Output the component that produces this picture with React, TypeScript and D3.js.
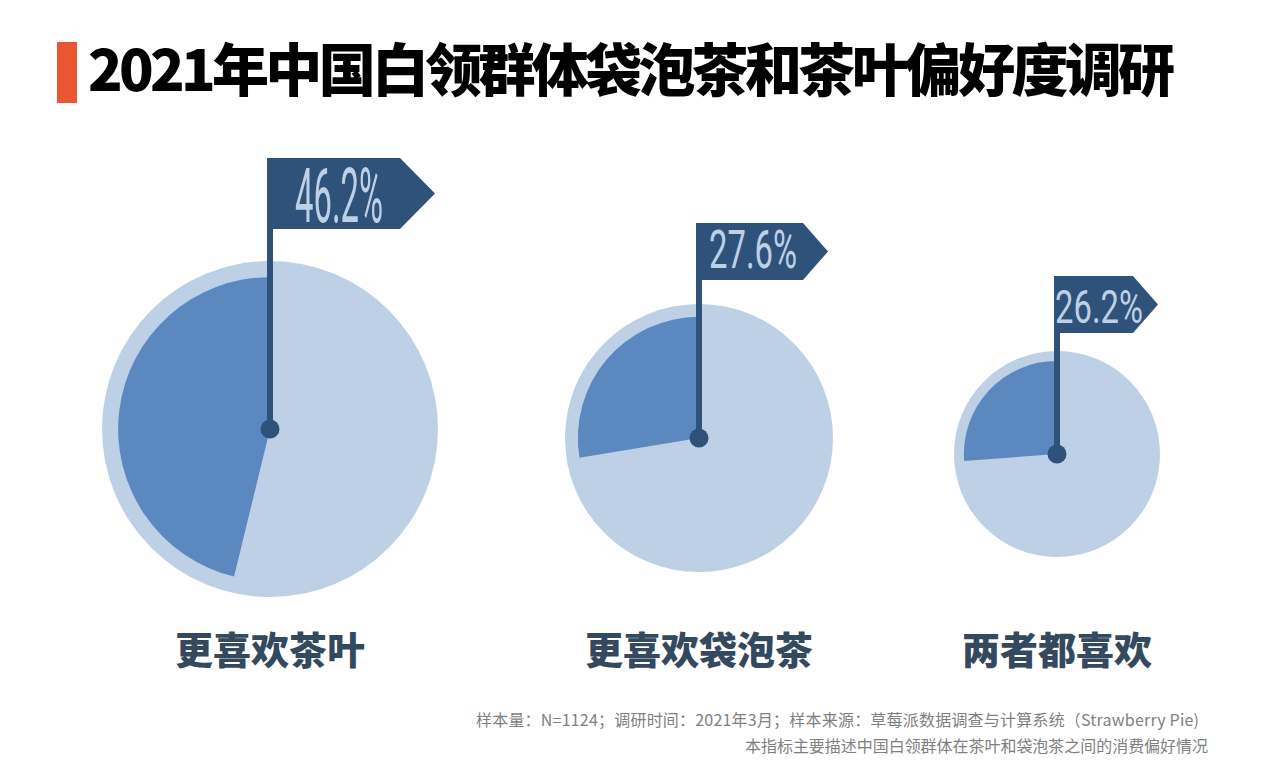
import * as React from 'react';
import * as d3 from 'd3';

// data
const categories = ['更喜欢茶叶', '更喜欢袋泡茶', '两者都喜欢'];
const shares = [46.2, 27.6, 26.2];
const title = '2021年中国白领群体袋泡茶和茶叶偏好度调研';
const notes = [
  '样本量：N=1124；调研时间：2021年3月；样本来源：草莓派数据调查与计算系统（Strawberry Pie)',
  '本指标主要描述中国白领群体在茶叶和袋泡茶之间的消费偏好情况',
];

// layout per pie (kept apart from data)
const layout = [
  { cx: 270, cy: 429, r: 168, flagTop: 158, flagH: 71, body: 133, tip: 35, fs: 76, tx: 25, ty: 64 },
  { cx: 699, cy: 438, r: 134, flagTop: 223, flagH: 57, body: 107, tip: 25, fs: 53, tx: 10, ty: 45 },
  { cx: 1057, cy: 454, r: 103, flagTop: 276, flagH: 57, body: 79, tip: 25, fs: 46, tx: -2, ty: 47 },
];
const noteLayout = [
  { x: 1199, y: 726, len: 723 },
  { x: 1208, y: 752, len: 463 },
];

const W = 1263;
const H = 766;
const LIGHT = '#bdd0e6';
const MID = '#5b88bf';
const NAVY = '#2f527b';
const CJK = '"Noto Sans CJK SC", "Noto Sans", sans-serif';

export default function App() {
  const svgRef = React.useRef<SVGSVGElement>(null);

  React.useEffect(() => {
    if (!svgRef.current) return;
    const svg = d3.select(svgRef.current);
    svg.selectAll('*').remove();

    // title
    svg.append('rect').attr('x', 57).attr('y', 42).attr('width', 20).attr('height', 61).attr('fill', '#eb5632');
    svg
      .append('text')
      .attr('x', 88)
      .attr('y', 91)
      .attr('font-family', CJK)
      .attr('font-weight', 900)
      .attr('font-size', 57)
      .attr('textLength', 1087)
      .attr('lengthAdjust', 'spacing')
      .attr('fill', '#000')
      .text(title);

    const pct = d3.scaleLinear().domain([0, 100]).range([0, -2 * Math.PI]);

    shares.forEach((v, i) => {
      const L = layout[i];
      const g = svg.append('g').attr('transform', `translate(${L.cx},${L.cy})`);
      const inner = L.r * 0.904;

      g.append('circle').attr('r', L.r).attr('fill', LIGHT);
      const arc = d3.arc<any>().innerRadius(0).outerRadius(inner).startAngle(0).endAngle(pct(v));
      g.append('path').attr('d', arc({} as any)).attr('fill', MID);

      // flag
      const top = L.flagTop - L.cy;
      const x0 = -3;
      const flagPath = d3.path();
      flagPath.moveTo(x0, top);
      flagPath.lineTo(x0 + L.body, top);
      flagPath.lineTo(x0 + L.body + L.tip, top + L.flagH / 2);
      flagPath.lineTo(x0 + L.body, top + L.flagH);
      flagPath.lineTo(x0, top + L.flagH);
      flagPath.closePath();
      g.append('path').attr('d', flagPath.toString()).attr('fill', NAVY);
      g.append('rect').attr('x', -3).attr('y', top).attr('width', 6).attr('height', -top).attr('fill', NAVY);
      g.append('circle').attr('r', 9.5).attr('fill', NAVY);

      g.append('text')
        .attr('x', L.tx)
        .attr('y', top + L.ty)
        .attr('font-family', 'Roboto, "Liberation Sans", sans-serif')
        .attr('font-size', L.fs)
        .attr('textLength', 88)
        .attr('lengthAdjust', 'spacingAndGlyphs')
        .attr('fill', LIGHT)
        .text(`${v}%`);

      svg
        .append('text')
        .attr('x', L.cx)
        .attr('y', 664)
        .attr('text-anchor', 'middle')
        .attr('font-family', CJK)
        .attr('font-weight', 900)
        .attr('font-size', 38)
        .attr('fill', '#34495e')
        .text(categories[i]);
    });

    notes.forEach((t, i) => {
      const N = noteLayout[i];
      svg
        .append('text')
        .attr('x', N.x - N.len)
        .attr('y', N.y)
        .attr('font-family', CJK)
        .attr('font-size', 16)
        .attr('textLength', N.len)
        .attr('lengthAdjust', 'spacing')
        .attr('fill', '#7f7f7f')
        .text(t);
    });
  }, []);

  return (
    <div style={{ position: 'absolute', left: 0, top: 0, width: W, height: H, background: '#fff' }}>
      <svg ref={svgRef} width={W} height={H} />
    </div>
  );
}
